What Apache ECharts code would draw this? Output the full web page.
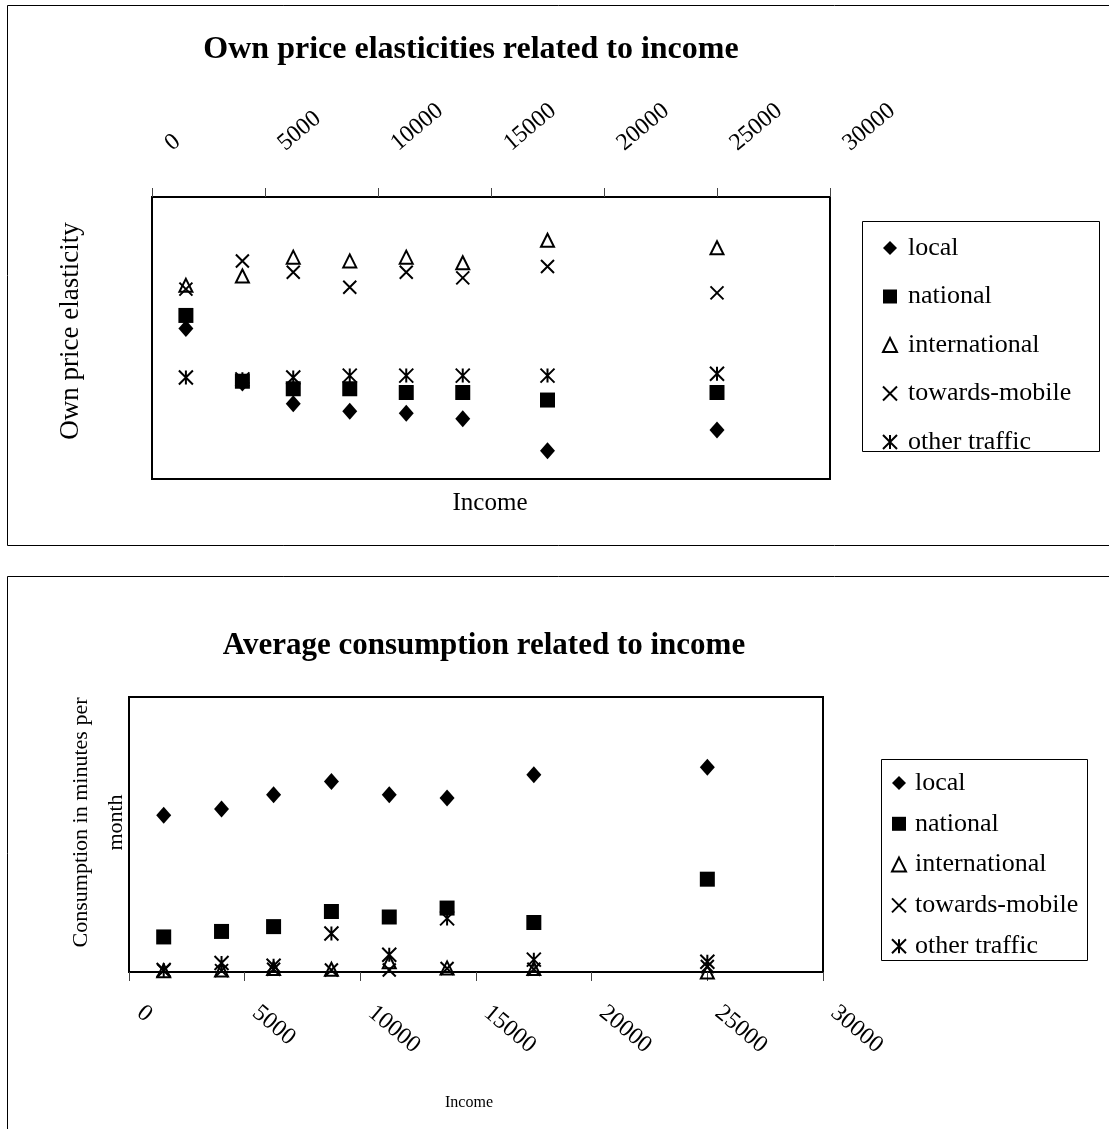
<!DOCTYPE html>
<html><head><meta charset="utf-8">
<script src="https://cdn.jsdelivr.net/npm/echarts@6.0.0/dist/echarts.min.js"></script>
<style>html,body{margin:0;padding:0;background:#fff}#c{width:1109px;height:1129px}</style>
</head><body><div id="c"></div>
<script>
// ---- data ----
const seriesNames = ['local', 'national', 'international', 'towards-mobile', 'other traffic'];
const incomes = [1500, 4000, 6250, 8750, 11250, 13750, 17500, 25000];
const xTicks = [0, 5000, 10000, 15000, 20000, 25000, 30000];

const elastLocal         = [-0.70, -0.99, -1.10, -1.14, -1.15, -1.18, -1.35, -1.24];
const elastNational      = [-0.63, -0.98, -1.02, -1.02, -1.04, -1.04, -1.08, -1.04];
const elastInternational = [-0.47, -0.42, -0.32, -0.34, -0.32, -0.35, -0.23, -0.27];
const elastMobile        = [-0.49, -0.34, -0.40, -0.48, -0.40, -0.43, -0.37, -0.51];
const elastOther         = [-0.96, -0.97, -0.96, -0.95, -0.95, -0.95, -0.95, -0.94];

const consLocal         = [228, 237, 258, 277, 258, 253, 287, 298];
const consNational      = [51, 59, 66, 88, 80, 93, 72, 135];
const consInternational = [2, 3, 5, 4, 15, 6, 5, 0];
const consMobile        = [2, 2, 4, 3, 3, 5, 4, 8];
const consOther         = [3, 13, 9, 56, 25, 78, 18, 15];

// ---- styling ----
const FONT = 'Liberation Serif';
const XPATH = 'path://M0,0L10,10M10,0L0,10';
const STARPATH = 'path://M0,0L10,10M10,0L0,10M5,0L5,10';
const markerStyles = {
  'local':          { symbol: 'diamond', symbolSize: [15, 17], itemStyle: { color: '#000', opacity: 1 } },
  'national':       { symbol: 'rect', symbolSize: 15, itemStyle: { color: '#000', opacity: 1 } },
  'international':  { symbol: 'triangle', symbolSize: 13, itemStyle: { color: 'rgba(0,0,0,0)', borderColor: '#000', borderWidth: 2, opacity: 1 } },
  'towards-mobile': { symbol: XPATH, symbolSize: 13, itemStyle: { color: 'rgba(0,0,0,0)', borderColor: '#000', borderWidth: 2, opacity: 1 } },
  'other traffic':  { symbol: STARPATH, symbolSize: 14, itemStyle: { color: 'rgba(0,0,0,0)', borderColor: '#000', borderWidth: 2, opacity: 1 } }
};

function pairs(xs, ys) { return xs.map((x, i) => [x, ys[i]]); }

const topData = [elastLocal, elastNational, elastInternational, elastMobile, elastOther];
const botData = [consLocal, consNational, consInternational, consMobile, consOther];

const series = [];
seriesNames.forEach((n, i) => {
  series.push(Object.assign({ type: 'scatter', name: n, xAxisIndex: 0, yAxisIndex: 0, clip: false,
    data: pairs(incomes, topData[i]), z: 3 }, markerStyles[n]));
});
seriesNames.forEach((n, i) => {
  series.push(Object.assign({ type: 'scatter', name: n, xAxisIndex: 1, yAxisIndex: 1, clip: false,
    data: pairs(incomes, botData[i]), z: 3 }, markerStyles[n]));
});

const legendText1 = { fontFamily: FONT, fontSize: 26, color: '#000', lineHeight: 28, padding: [0, 0, 0, 6] };
const legendText2 = { fontFamily: FONT, fontSize: 26, color: '#000', lineHeight: 28, padding: [0, 0, 0, 4] };
const tickFmt = v => (xTicks.indexOf(v) >= 0 ? String(v) : '');

const option = {
  animation: false,
  backgroundColor: '#fff',
  textStyle: { fontFamily: FONT },
  grid: [
    { left: 152, top: 197, width: 678, height: 282, show: true, borderColor: '#000', borderWidth: 2, backgroundColor: 'transparent' },
    { left: 129, top: 697, width: 694, height: 275, show: true, borderColor: '#000', borderWidth: 2, backgroundColor: 'transparent' }
  ],
  xAxis: [
    { type: 'value', gridIndex: 0, position: 'top', min: 0, max: 30000, interval: 5000,
      axisLine: { show: true, lineStyle: { color: '#000', width: 2 } },
      axisTick: { show: true, inside: false, length: 9, lineStyle: { color: '#444', width: 1 } },
      splitLine: { show: false },
      axisLabel: { rotate: 40, margin: 37, padding: [0, 0, 0, 21], formatter: tickFmt, fontFamily: FONT, fontSize: 24, color: '#000' } },
    { type: 'value', gridIndex: 1, position: 'bottom', min: 0, max: 30000, interval: 5000,
      axisLine: { show: true, lineStyle: { color: '#000', width: 2 } },
      axisTick: { show: true, inside: false, length: 9, lineStyle: { color: '#444', width: 1 } },
      splitLine: { show: false },
      axisLabel: { rotate: -40, margin: 29, padding: [0, 0, 0, 14], formatter: tickFmt, fontFamily: FONT, fontSize: 24, color: '#000' } }
  ],
  yAxis: [
    { type: 'value', gridIndex: 0, min: -1.5, max: 0,
      axisLine: { show: true, lineStyle: { color: '#000', width: 2 } },
      axisTick: { show: false }, axisLabel: { show: false }, splitLine: { show: false },
      name: 'Own price elasticity', nameLocation: 'middle', nameRotate: 90, nameGap: 68,
      nameTextStyle: { fontFamily: FONT, fontSize: 27, color: '#000', padding: [0, 0, 0, 14] } },
    { type: 'value', gridIndex: 1, min: 0, max: 400,
      axisLine: { show: true, lineStyle: { color: '#000', width: 2 } },
      axisTick: { show: false }, axisLabel: { show: false }, splitLine: { show: false },
      name: 'Consumption in minutes per\nmonth', nameLocation: 'middle', nameRotate: 90, nameGap: -5,
      nameTextStyle: { fontFamily: FONT, fontSize: 22, color: '#000', lineHeight: 35, padding: [0, 0, 0, 24] } }
  ],
  legend: [
    { orient: 'vertical', left: 882, top: 234, padding: 0, itemWidth: 14, itemHeight: 14, itemGap: 20.5,
      data: seriesNames, textStyle: legendText1, selectedMode: false },
    { orient: 'vertical', left: 891, top: 769, padding: 0, itemWidth: 14, itemHeight: 14, itemGap: 12.8,
      data: seriesNames, textStyle: legendText2, selectedMode: false }
  ],
  graphic: [
    { type: 'rect', shape: { x: 7.5, y: 5.5, width: 1200, height: 540 }, style: { fill: 'none', stroke: '#000', lineWidth: 1 }, silent: true },
    { type: 'rect', shape: { x: 7.5, y: 576.5, width: 1200, height: 700 }, style: { fill: 'none', stroke: '#000', lineWidth: 1 }, silent: true },
    { type: 'rect', shape: { x: 862.5, y: 221.5, width: 237, height: 230 }, style: { fill: 'none', stroke: '#000', lineWidth: 1 }, silent: true },
    { type: 'rect', shape: { x: 881.5, y: 759.5, width: 206, height: 201 }, style: { fill: 'none', stroke: '#000', lineWidth: 1 }, silent: true },
    { type: 'text', x: 471, y: 50, style: { text: 'Own price elasticities related to income', font: 'bold 32px "Liberation Serif"', fill: '#000', textAlign: 'center', textVerticalAlign: 'middle' } },
    { type: 'text', x: 484, y: 646, style: { text: 'Average consumption related to income', font: 'bold 31px "Liberation Serif"', fill: '#000', textAlign: 'center', textVerticalAlign: 'middle' } },
    { type: 'text', x: 490, y: 503, style: { text: 'Income', font: '25px "Liberation Serif"', fill: '#000', textAlign: 'center', textVerticalAlign: 'middle' } },
    { type: 'text', x: 469, y: 1103, style: { text: 'Income', font: '16px "Liberation Serif"', fill: '#000', textAlign: 'center', textVerticalAlign: 'middle' } }
  ],
  series: series
};

const chart = echarts.init(document.getElementById('c'), null, { renderer: 'canvas' });
chart.setOption(option);
</script></body></html>
